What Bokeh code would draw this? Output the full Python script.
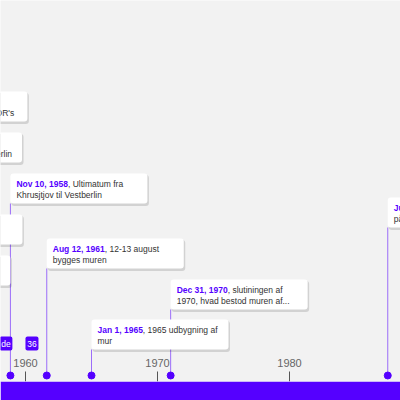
from datetime import date
from bokeh.plotting import figure
from bokeh.models import Range1d, ColumnDataSource
from bokeh.embed import file_html
from bokeh.resources import INLINE
from bokeh.core.properties import value

# ---------------- data ----------------
event_dates = ["1948-06-24", "1949-05-12", "1949-05-23", "1949-10-07", "1958-11-10",
               "1961-08-12", "1965-01-01", "1970-12-31", "1987-06-12"]
event_titles = ["Jun 24, 1948", "May 12, 1949", "May 23, 1949", "Oct 7, 1949", "Nov 10, 1958",
                "Aug 12, 1961", "Jan 1, 1965", "Dec 31, 1970", "Jun 12, 1987"]
event_line1 = [", Berlinblokaden", ", blokaden", ", BRD", ", Tyskland",
               ", Ultimatum fra", ", 12-13 august", ", 1965 udbygning af",
               ", slutiningen af", ", Reagan holder tale"]
event_line2 = ["begynder", "ophæves, luftbroen til Vestberlin", "oprettes",
               "Forbundsrepublikken og DDR's",
               "Khrusjtjov til Vestberlin", "bygges muren", "mur",
               "1970, hvad bestod muren af...", "på Brandenburger Tor"]

tick_years = [1960, 1970, 1980]
tick_labels = ["1960", "1970", "1980"]

badge_dates = ["1958-07-08", "1960-06-28"]
badge_texts = ["de", "36"]

# ---------------- layout / style ----------------
label_tops = [255, 132, 214, 91, 173, 238, 319, 279, 197]   # box top (px from top)
BOX_W, BOX_H, PAD = 137, 30, 6
POINT_Y, TICK_TOP, BAND_TOP = 375, 371, 381
PX_PER_YEAR = 13.2
PURPLE = "#5500ff"
BG = "#f2f2f2"
FONT = "Liberation Sans"
FS = 8.5
W, H = 400, 400

x_start = 1960 - 25 / PX_PER_YEAR
x_end = x_start + W / PX_PER_YEAR

BOLD_W = {"N": .722, "A": .722, "J": .556, "D": .722, "O": .778, "M": .833,
          "o": .611, "v": .556, "u": .611, "g": .611, "a": .556, "n": .611, "e": .556,
          "c": .556, "y": .556, "l": .278, "p": .611, "b": .611, "r": .389, "t": .333,
          " ": .278, ",": .278}


def to_year(s):
    d = date.fromisoformat(s)
    return d.year + (d - date(d.year, 1, 1)).days / 365.25


def bold_width(s, size):
    return sum(BOLD_W.get(ch, .556) for ch in s) * size


xs = [to_year(d) for d in event_dates]
box_w_years = BOX_W / PX_PER_YEAR

src = ColumnDataSource(dict(
    x=xs,
    right=[x + box_w_years for x in xs],
    top=label_tops,
    bottom=[t + BOX_H for t in label_tops],
    sh_left=[x + 1 / PX_PER_YEAR for x in xs],
    sh_right=[x + (BOX_W + 1.5) / PX_PER_YEAR for x in xs],
    sh_top=[t + 1.5 for t in label_tops],
    sh_bottom=[t + BOX_H + 2.5 for t in label_tops],
    l1y=[t + 10.5 for t in label_tops],
    l2y=[t + 21 for t in label_tops],
    pt=[POINT_Y] * len(xs),
    title=event_titles,
    line1=event_line1,
    line2=event_line2,
    rest_off=[PAD + bold_width(t, FS) for t in event_titles],
))

p = figure(width=W, height=H, output_backend="svg", toolbar_location=None,
           x_range=Range1d(x_start, x_end), y_range=Range1d(BAND_TOP, 0),
           x_axis_location=None, y_axis_location=None,
           min_border_left=0, min_border_right=0, min_border_top=0,
           min_border_bottom=H - BAND_TOP,
           background_fill_color=BG, border_fill_color=PURPLE, outline_line_color=None)
p.grid.visible = False

# connectors
p.segment(x0="x", y0="bottom", x1="x", y1="pt", source=src, line_color=PURPLE,
          line_alpha=0.55, line_width=1)

# ticks
tsrc = ColumnDataSource(dict(x=tick_years, lab=tick_labels,
                             y0=[TICK_TOP] * 3, y1=[BAND_TOP] * 3, ly=[362] * 3))
p.segment(x0="x", y0="y0", x1="x", y1="y1", source=tsrc, line_color="#555555", line_width=1)
p.text(x="x", y="ly", text="lab", source=tsrc, text_align="center", text_baseline="middle",
       text_font=value(FONT), text_font_size="11px", text_color="#666666")

# badges
bsrc = ColumnDataSource(dict(x=[to_year(d) for d in badge_dates], t=badge_texts, y=[343] * 2))
p.rect(x="x", y="y", width=13, height=14, width_units="screen", height_units="screen",
       source=bsrc, fill_color=PURPLE, line_color=None, border_radius=2)
p.text(x="x", y="y", text="t", source=bsrc, text_align="center", text_baseline="middle",
       text_font=value(FONT), text_font_size="8.5px", text_color="white")

# points
p.scatter(x="x", y="pt", source=src, size=7, fill_color=PURPLE, line_color=PURPLE)

# label boxes (shadow + box)
p.quad(left="sh_left", right="sh_right", top="sh_top", bottom="sh_bottom", source=src,
       fill_color="black", fill_alpha=0.13, line_color=None, border_radius=3)
p.quad(left="x", right="right", top="top", bottom="bottom", source=src,
       fill_color="white", line_color=None, border_radius=3)

p.text(x="x", y="l1y", text="title", source=src, x_offset=PAD, text_baseline="middle",
       text_font=value(FONT), text_font_size=f"{FS}px", text_font_style="bold",
       text_color=PURPLE)
p.text(x="x", y="l1y", text="line1", source=src, x_offset="rest_off", text_baseline="middle",
       text_font=value(FONT), text_font_size=f"{FS}px", text_color="#333333")
p.text(x="x", y="l2y", text="line2", source=src, x_offset=PAD, text_baseline="middle",
       text_font=value(FONT), text_font_size=f"{FS}px", text_color="#333333")

open("out.html", "w").write(file_html(p, INLINE))
